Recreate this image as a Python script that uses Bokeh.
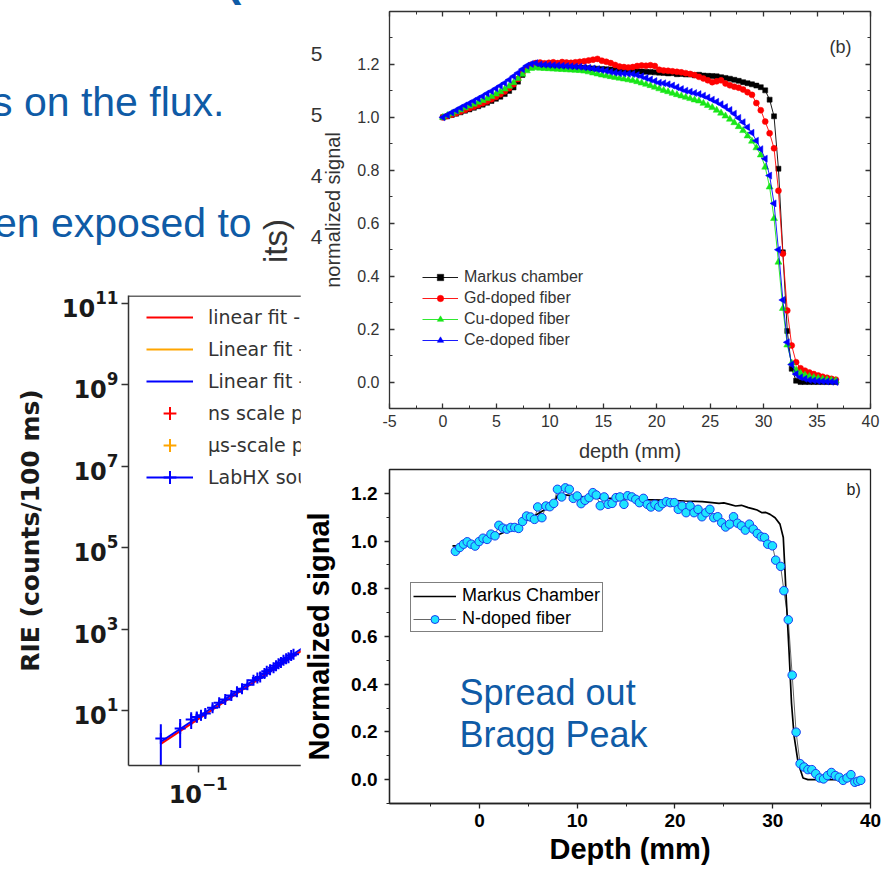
import numpy as np
from bokeh.plotting import figure
from bokeh.models import (ColumnDataSource, Legend, LegendItem, Label, LinearAxis, Span,
                          SingleIntervalTicker, FixedTicker, PrintfTickFormatter, Range1d,
                          CustomJSTickFormatter, Div)
from bokeh.layouts import row, column
from bokeh.embed import file_html
from bokeh.resources import INLINE

# ---------------- fibre comparison, depth profiles (panel "(b)") ----------------
depth_step = 0.413
depth_b = np.round(np.arange(90) * depth_step, 3)

markus_b = [1.000, 1.004, 1.009, 1.014, 1.019, 1.025, 1.030, 1.036, 1.042, 1.048,
            1.055, 1.062, 1.070, 1.078, 1.088, 1.100, 1.113, 1.135, 1.160, 1.185,
            1.198, 1.200, 1.198, 1.196, 1.195, 1.194, 1.193, 1.192, 1.191, 1.190,
            1.189, 1.188, 1.187, 1.186, 1.185, 1.184, 1.183, 1.182, 1.181, 1.180,
            1.179, 1.178, 1.177, 1.175, 1.174, 1.173, 1.172, 1.171, 1.170, 1.169,
            1.168, 1.166, 1.167, 1.163, 1.164, 1.162, 1.162, 1.159, 1.161, 1.158,
            1.157, 1.156, 1.155, 1.152, 1.149, 1.146, 1.142, 1.138, 1.133, 1.129,
            1.125, 1.120, 1.114, 1.102, 1.067, 1.004, 0.806, 0.490, 0.193, 0.050,
            0.005, 0.000, 0.000, 0.000, 0.000, 0.000, 0.000, 0.000, 0.000, 0.000]

gd_b = [1.000, 1.005, 1.010, 1.016, 1.022, 1.028, 1.034, 1.040, 1.047, 1.053,
        1.060, 1.068, 1.077, 1.087, 1.098, 1.110, 1.125, 1.145, 1.168, 1.188,
        1.199, 1.205, 1.207, 1.204, 1.206, 1.208, 1.205, 1.209, 1.207, 1.206,
        1.208, 1.210, 1.212, 1.215, 1.218, 1.221, 1.214, 1.210, 1.205, 1.198,
        1.192, 1.190, 1.188, 1.190, 1.194, 1.196, 1.195, 1.197, 1.194, 1.180,
        1.177, 1.176, 1.174, 1.172, 1.170, 1.167, 1.164, 1.160, 1.153, 1.147,
        1.140, 1.133, 1.136, 1.140, 1.128, 1.121, 1.116, 1.112, 1.105, 1.095,
        1.085, 1.054, 1.027, 0.984, 0.940, 0.883, 0.723, 0.485, 0.270, 0.138,
        0.075, 0.052, 0.043, 0.036, 0.030, 0.025, 0.020, 0.016, 0.012, 0.009]

cu_b = [1.000, 1.007, 1.014, 1.021, 1.028, 1.036, 1.043, 1.050, 1.057, 1.064,
        1.071, 1.079, 1.088, 1.097, 1.107, 1.118, 1.131, 1.147, 1.163, 1.176,
        1.185, 1.188, 1.186, 1.185, 1.184, 1.183, 1.182, 1.181, 1.180, 1.179,
        1.178, 1.177, 1.175, 1.172, 1.168, 1.164, 1.160, 1.157, 1.154, 1.151,
        1.148, 1.145, 1.142, 1.139, 1.135, 1.130, 1.125, 1.120, 1.114, 1.108,
        1.102, 1.097, 1.091, 1.086, 1.081, 1.076, 1.071, 1.066, 1.062, 1.053,
        1.045, 1.037, 1.027, 1.016, 1.005, 0.993, 0.980, 0.965, 0.950, 0.930,
        0.910, 0.885, 0.858, 0.812, 0.737, 0.618, 0.453, 0.278, 0.140, 0.072,
        0.045, 0.033, 0.026, 0.021, 0.017, 0.014, 0.011, 0.009, 0.007, 0.005]

ce_b = [1.000, 1.009, 1.018, 1.027, 1.036, 1.045, 1.053, 1.062, 1.071, 1.080,
        1.090, 1.099, 1.109, 1.119, 1.130, 1.142, 1.155, 1.168, 1.182, 1.195,
        1.202, 1.205, 1.200, 1.199, 1.198, 1.197, 1.196, 1.195, 1.194, 1.193,
        1.192, 1.191, 1.189, 1.187, 1.185, 1.182, 1.179, 1.176, 1.172, 1.169,
        1.167, 1.166, 1.165, 1.164, 1.160, 1.155, 1.149, 1.143, 1.137, 1.131,
        1.129, 1.125, 1.120, 1.114, 1.107, 1.101, 1.097, 1.092, 1.088, 1.082,
        1.075, 1.067, 1.059, 1.050, 1.039, 1.028, 1.014, 0.998, 0.982, 0.963,
        0.942, 0.912, 0.880, 0.844, 0.780, 0.675, 0.500, 0.310, 0.150, 0.066,
        0.030, 0.018, 0.012, 0.008, 0.006, 0.004, 0.003, 0.002, 0.001, 0.000]

# ---------------- N-doped fibre vs Markus chamber (panel "b)") ----------------
ndoped_depth = [-2.46, -2.02, -1.62, -1.25, -0.84, -0.44, -0.03, 0.37, 0.78, 1.18,
                1.59, 1.99, 2.39, 2.80, 3.20, 3.61, 4.01, 4.41, 4.82, 5.22,
                5.63, 5.96, 6.39, 6.80, 7.20, 7.60, 7.98, 8.41, 8.79, 9.19,
                9.60, 10.00, 10.40, 10.80, 11.21, 11.60, 11.95, 12.36, 12.76, 13.16,
                13.57, 13.97, 14.37, 14.78, 15.15, 15.59, 15.99, 16.36, 16.77, 17.17,
                17.54, 17.95, 18.35, 18.72, 19.12, 19.53, 19.93, 20.34, 20.74, 21.14,
                21.55, 21.95, 22.36, 22.76, 23.16, 23.57, 23.97, 24.37, 24.78, 25.18,
                25.59, 25.99, 26.40, 26.80, 27.20, 27.61, 28.01, 28.42, 28.82, 29.16,
                29.49, 29.97, 30.30, 30.81, 31.14, 31.59, 31.99, 32.39, 32.80, 33.20,
                33.60, 34.00, 34.40, 34.80, 35.20, 35.60, 36.00, 36.40, 36.80, 37.20,
                37.60, 38.00, 38.40, 38.70, 39.00]
ndoped_signal = [0.957, 0.973, 0.987, 0.997, 0.987, 0.979, 0.998, 1.012, 1.007, 1.029,
                 1.022, 1.066, 1.054, 1.050, 1.057, 1.057, 1.053, 1.082, 1.105, 1.101,
                 1.091, 1.143, 1.098, 1.147, 1.144, 1.158, 1.217, 1.185, 1.223, 1.217,
                 1.179, 1.189, 1.157, 1.171, 1.182, 1.203, 1.193, 1.148, 1.185, 1.154,
                 1.158, 1.182, 1.185, 1.154, 1.190, 1.185, 1.175, 1.161, 1.179, 1.154,
                 1.143, 1.154, 1.143, 1.157, 1.165, 1.161, 1.161, 1.133, 1.147, 1.119,
                 1.147, 1.119, 1.133, 1.102, 1.119, 1.133, 1.098, 1.102, 1.077, 1.059,
                 1.071, 1.102, 1.075, 1.064, 1.046, 1.071, 1.050, 1.032, 1.018, 1.015,
                 0.987, 0.980, 0.920, 0.894, 0.792, 0.670, 0.438, 0.199, 0.067, 0.053,
                 0.042, 0.042, 0.025, 0.007, 0.003, 0.017, 0.030, 0.017, 0.010, -0.003,
                 0.007, 0.021, -0.011, -0.007, -0.003]

markus_depth = [-2.76, -2.00, 0.00, 1.52, 3.00, 4.37, 5.50, 6.57, 7.74, 7.98,
                8.56, 10.00, 12.30, 14.75, 17.00, 19.50, 21.00, 22.80, 23.80, 24.50,
                25.00, 25.50, 26.20, 26.80, 27.50, 28.00, 28.40, 28.90, 29.30, 29.73,
                30.24, 30.74, 31.08, 31.25, 31.41, 31.68, 31.92, 32.19, 32.60, 33.10,
                33.60, 37.30]
markus_signal = [0.980, 0.980, 1.000, 1.019, 1.045, 1.077, 1.102, 1.129, 1.168, 1.192,
                 1.195, 1.187, 1.180, 1.178, 1.174, 1.171, 1.168, 1.165, 1.161, 1.158,
                 1.160, 1.155, 1.147, 1.150, 1.140, 1.135, 1.130, 1.119, 1.120, 1.112,
                 1.098, 1.071, 1.015, 0.876, 0.737, 0.528, 0.320, 0.181, 0.070, 0.007,
                 0.000, 0.000]

# ---------------- RIE versus flux, log-log (LabHX source) ----------------
labhx_flux = [0.0457, 0.0685, 0.0863, 0.097, 0.106, 0.116, 0.135, 0.155, 0.176, 0.200,
              0.225, 0.250, 0.280, 0.318, 0.345, 0.366, 0.400, 0.420, 0.450, 0.484,
              0.510, 0.537, 0.565, 0.596, 0.630, 0.662, 0.700, 0.735]
labhx_rie = [2.05, 3.6, 6.0, 6.9, 7.6, 8.4, 11.7, 15.5, 18.6, 23.4,
             28.8, 34.0, 42.7, 55.0, 63.0, 66.0, 81.0, 92.0, 100.0, 112.0,
             126.0, 140.0, 151.0, 170.0, 186.0, 198.0, 224.0, 240.0]
labhx_lo = [0.3, 1.2, 3.5, 5.0, 5.7, 6.5, 9.6, 12.9, 15.6, 19.9,
            24.8, 29.5, 37.4, 48.5, 56.0, 59.0, 73.0, 83.0, 91.0, 102.0,
            115.0, 129.0, 139.0, 157.0, 172.0, 184.0, 209.0, 225.0]
labhx_hi = [4.6, 6.2, 9.0, 8.9, 9.8, 10.6, 14.0, 18.3, 21.8, 27.0,
            33.0, 38.8, 48.4, 62.0, 70.5, 73.5, 89.5, 101.0, 109.0, 122.0,
            137.0, 151.0, 163.0, 183.0, 200.0, 212.0, 239.0, 255.0]
fit_ns_flux = [0.0457, 1.2]
fit_ns_rie = [1.51, 520.0]
fit_labhx_flux = [0.0457, 1.2]
fit_labhx_rie = [1.70, 585.0]
# pulsed-beam series: measured at higher flux, beyond the part of the axes shown
pulsed_flux = [3.0, 10.0]
pulsed_rie = [1.0e4, 1.0e5]

SLIDE_BLUE = "#0f5ba6"
GREY = "#333333"
BLANK = CustomJSTickFormatter(code="return ''")

# the right-hand panels are laid over the right edge of the RIE plot
OVERLAP = 30
LEFT_W = 300 + OVERLAP

# ---------------- slide text strip (top left) ----------------
def span(txt, left, top, size, color, extra=""):
    return (f'<span style="position:absolute;left:{left}px;top:{top}px;white-space:nowrap;'
            f"font-family:'Liberation Sans',Arial,sans-serif;font-size:{size}px;line-height:1;"
            f'color:{color};{extra}">{txt}</span>')

strip_html = ('<div style="position:relative;width:300px;height:285px;overflow:hidden;background:white;">'
              + span("s on the flux.", -8, 82, 41, SLIDE_BLUE)
              + span("en exposed to", -6, 203, 41, SLIDE_BLUE)
              + span("(", 226, -44, 46, SLIDE_BLUE, "font-weight:bold;")
              + span("its)", 259, 263, 33, GREY, "transform:rotate(-90deg);transform-origin:left top;")
              + "</div>")
strip = Div(text=strip_html, width=LEFT_W, height=285, margin=0)

# ---------------- RIE log-log plot ----------------
lg = figure(width=LEFT_W, height=586, x_axis_type="log", y_axis_type="log",
            x_range=Range1d(10 ** -1.634, 10 ** 0.2027), y_range=Range1d(10 ** -0.352, 10 ** 11.19),
            output_backend="svg", toolbar_location=None,
            min_border_left=128, min_border_right=0, min_border_top=10, min_border_bottom=106)
lg.grid.visible = False
lg.outline_line_color = None
lg_x = lg.below[0]
lg_y = lg.left[0]
lg_y.ticker = FixedTicker(ticks=[1e1, 1e3, 1e5, 1e7, 1e9, 1e11], minor_ticks=[])
lg_x.ticker = FixedTicker(ticks=[0.1], minor_ticks=[])
for ax in (lg_x, lg_y):
    ax.axis_line_color = GREY
    ax.axis_line_width = 1.5
    ax.major_tick_line_color = GREY
    ax.major_tick_line_width = 1.5
    ax.major_tick_out = 7
    ax.major_tick_in = 0
    ax.major_label_text_font = "DejaVu Sans"
    ax.major_label_text_font_style = "bold"
    ax.major_label_text_font_size = "24px"
    ax.major_label_text_color = "#1a1a1a"
    ax.major_label_standoff = 3
lg_y.axis_label = "RIE (counts/100 ms)"
lg_y.axis_label_text_font = "DejaVu Sans"
lg_y.axis_label_text_font_style = "bold"
lg_y.axis_label_text_font_size = "25px"
lg_y.axis_label_text_color = "#1a1a1a"
lg_y.axis_label_standoff = 14
# top spine of the axes box
lg.add_layout(Span(location=10 ** 11.18, dimension="width", line_color=GREY, line_width=1.5))

r_fit_ns = lg.line(fit_ns_flux, fit_ns_rie, line_color="red", line_width=2)
r_fit_us = lg.line(pulsed_flux, pulsed_rie, line_color="orange", line_width=2)
r_fit_lab = lg.line(fit_labhx_flux, fit_labhx_rie, line_color="blue", line_width=2)
r_err = lg.segment(labhx_flux, labhx_lo, labhx_flux, labhx_hi, line_color="blue", line_width=2)
r_pts_lab = lg.scatter(labhx_flux, labhx_rie, marker="cross", size=11, line_color="blue", line_width=2)
r_pts_ns = lg.scatter(pulsed_flux, pulsed_rie, marker="cross", size=10, line_color="red", line_width=2)
r_pts_us = lg.scatter(pulsed_flux, pulsed_rie, marker="cross", size=10, line_color="orange", line_width=2)

lg.add_layout(Legend(items=[
    LegendItem(label="linear fit - ns scale", renderers=[r_fit_ns]),
    LegendItem(label="Linear fit - \u00b5s scale", renderers=[r_fit_us]),
    LegendItem(label="Linear fit - LabHX", renderers=[r_fit_lab]),
    LegendItem(label="ns scale pulses", renderers=[r_pts_ns]),
    LegendItem(label="\u00b5s-scale pulses", renderers=[r_pts_us]),
    LegendItem(label="LabHX source", renderers=[r_fit_lab, r_pts_lab]),
], location=(13, 267), glyph_width=47, glyph_height=32, spacing=0, padding=5, margin=0,
    label_standoff=15, label_text_font="DejaVu Sans", label_text_font_size="19px",
    label_text_color=GREY, border_line_alpha=0, background_fill_alpha=0))

# ---------------- fibre comparison panel ----------------
tp = figure(width=586, height=465, x_range=(-5, 40), y_range=(-0.1, 1.4),
            output_backend="svg", toolbar_location=None,
            min_border_left=85, min_border_right=13, min_border_top=11, min_border_bottom=57)
tp.grid.visible = False
tp.outline_line_color = GREY
tp_x = tp.below[0]
tp_y = tp.left[0]
tp_x.ticker = SingleIntervalTicker(interval=5, num_minor_ticks=2)
tp_y.ticker = SingleIntervalTicker(interval=0.2, num_minor_ticks=2)
tp_x.formatter = PrintfTickFormatter(format="%d")
tp_y.formatter = PrintfTickFormatter(format="%.1f")
tp_x.axis_label = "depth (mm)"
tp_y.axis_label = "normalized signal"
tp_r = LinearAxis(ticker=SingleIntervalTicker(interval=0.2, num_minor_ticks=2), formatter=BLANK)
tp_t = LinearAxis(ticker=SingleIntervalTicker(interval=5, num_minor_ticks=2), formatter=BLANK)
tp.add_layout(tp_r, "right")
tp.add_layout(tp_t, "above")
for ax in (tp_x, tp_y, tp_r, tp_t):
    ax.axis_line_color = GREY
    ax.axis_line_width = 1.3
    ax.major_tick_line_color = GREY
    ax.minor_tick_line_color = GREY
    ax.major_tick_line_width = 1.3
    ax.major_tick_in = 5
    ax.major_tick_out = 0
    ax.minor_tick_in = 3
    ax.minor_tick_out = 0
    ax.major_label_text_font = "Liberation Sans"
    ax.major_label_text_color = GREY
    ax.major_label_text_font_size = "16px"
    ax.axis_label_text_font = "Liberation Sans"
    ax.axis_label_text_font_style = "normal"
    ax.axis_label_text_color = GREY
    ax.axis_label_text_font_size = "20px"
tp_r.major_label_standoff = 0
tp_t.major_label_standoff = 0
tp_x.major_label_standoff = 6
tp_x.axis_label_standoff = 10
tp_y.major_label_standoff = 10
tp_y.axis_label_standoff = 10

# tick numbers of the panel lying underneath, peeking out at the left edge
tp.extra_y_ranges = {"under": Range1d(2.605, 5.843)}
tp_under = LinearAxis(y_range_name="under", ticker=FixedTicker(ticks=[4.0, 4.5, 5.0, 5.5], minor_ticks=[]),
                      formatter=CustomJSTickFormatter(code="return String(Math.floor(tick))"),
                      axis_line_color=None, major_tick_line_color=None, minor_tick_line_color=None,
                      major_label_text_font="Liberation Sans", major_label_text_font_size="21px",
                      major_label_text_color=GREY, major_label_standoff=-9)
tp.add_layout(tp_under, "left")

src_b = ColumnDataSource(dict(d=depth_b, markus=markus_b, gd=gd_b, cu=cu_b, ce=ce_b))
series = [("markus", "black", "square", 5, 0, "Markus chamber"),
          ("gd", "red", "circle", 6, 0, "Gd-doped fiber"),
          ("cu", "#19e619", "triangle", 7, 0, "Cu-doped fiber"),
          ("ce", "blue", "triangle", 7, np.pi / 2, "Ce-doped fiber")]
tp_items = []
for key, col, mk, sz, ang, lab in series:
    ln = tp.line("d", key, source=src_b, line_color=col, line_width=0.9)
    sc = tp.scatter("d", key, source=src_b, marker=mk, size=sz, angle=ang,
                    fill_color=col, line_color=col, line_width=0.5)
    tp_items.append(LegendItem(label=lab, renderers=[ln, sc]))
tp.add_layout(Legend(items=tp_items, location=(28, 54), glyph_width=36, glyph_height=16,
                     spacing=3, padding=5, margin=0, label_standoff=6,
                     label_text_font="Liberation Sans", label_text_font_size="16px",
                     label_text_color=GREY, border_line_alpha=0, background_fill_alpha=0))
tp.add_layout(Label(x=440, y=352, x_units="screen", y_units="screen", text="(b)",
                    text_font="Liberation Sans", text_font_size="18px", text_color=GREY))

# ---------------- N-doped fibre panel ----------------
bp = figure(width=586, height=406, x_range=(-9.2, 40), y_range=(-0.1, 1.3),
            output_backend="svg", toolbar_location=None,
            min_border_left=84, min_border_right=16, min_border_top=4, min_border_bottom=68)
bp.grid.visible = False
bp.outline_line_color = "#222222"
bp.outline_line_width = 1.3
bp_x = bp.below[0]
bp_y = bp.left[0]
bp_x.ticker = SingleIntervalTicker(interval=10, num_minor_ticks=2)
bp_y.ticker = SingleIntervalTicker(interval=0.2, num_minor_ticks=2)
bp_y.formatter = PrintfTickFormatter(format="%.1f")
bp_x.formatter = PrintfTickFormatter(format="%d")
bp_x.axis_label = "Depth (mm)"
bp_y.axis_label = "Normalized signal"
for ax in (bp_x, bp_y):
    ax.axis_line_color = "#222222"
    ax.axis_line_width = 1.3
    ax.major_tick_line_color = "#222222"
    ax.minor_tick_line_color = "#222222"
    ax.major_tick_line_width = 1.3
    ax.major_tick_out = 5
    ax.major_tick_in = 0
    ax.minor_tick_out = 3
    ax.minor_tick_in = 0
    ax.major_label_text_font = "Liberation Sans"
    ax.major_label_text_font_style = "bold"
    ax.major_label_text_font_size = "19px"
    ax.major_label_text_color = "black"
    ax.axis_label_text_font = "Liberation Sans"
    ax.axis_label_text_font_style = "bold"
    ax.axis_label_text_font_size = "29px"
    ax.axis_label_text_color = "black"
bp_y.major_label_standoff = 7
bp_y.axis_label_standoff = 13
bp_x.major_label_standoff = 5
bp_x.axis_label_standoff = 3

b_markus = bp.line(markus_depth, markus_signal, line_color="black", line_width=1.7)
b_nline = bp.line(ndoped_depth, ndoped_signal, line_color="black", line_width=0.6)
b_npts = bp.scatter(ndoped_depth, ndoped_signal, marker="circle", size=8.5,
                    fill_color="#1ee3ff", line_color="#1a3cf0", line_width=1)
bp.add_layout(Legend(items=[LegendItem(label="Markus Chamber", renderers=[b_markus]),
                            LegendItem(label="N-doped fiber", renderers=[b_nline, b_npts])],
                     location=(21, 171), glyph_width=43, glyph_height=20, spacing=2,
                     padding=2, margin=0, label_standoff=6,
                     label_text_font="Liberation Sans", label_text_font_size="18px",
                     label_text_color="black", border_line_color="black", border_line_width=1,
                     background_fill_color="white"))
bp.add_layout(Label(x=457, y=306, x_units="screen", y_units="screen", text="b)",
                    text_font="Liberation Sans", text_font_size="16px", text_color="#222222"))
for txt, yy in [("Spread out", 111), ("Bragg Peak", 69)]:
    bp.add_layout(Label(x=70, y=yy, x_units="screen", y_units="screen", text=txt,
                        text_font="Liberation Sans", text_font_size="36px",
                        text_color=SLIDE_BLUE, text_baseline="middle"))

left_col = column(strip, lg)
right_col = column(tp, bp, margin=(0, 0, 0, -OVERLAP))
page = row(left_col, right_col)
open("out.html", "w").write(file_html(page, INLINE))
